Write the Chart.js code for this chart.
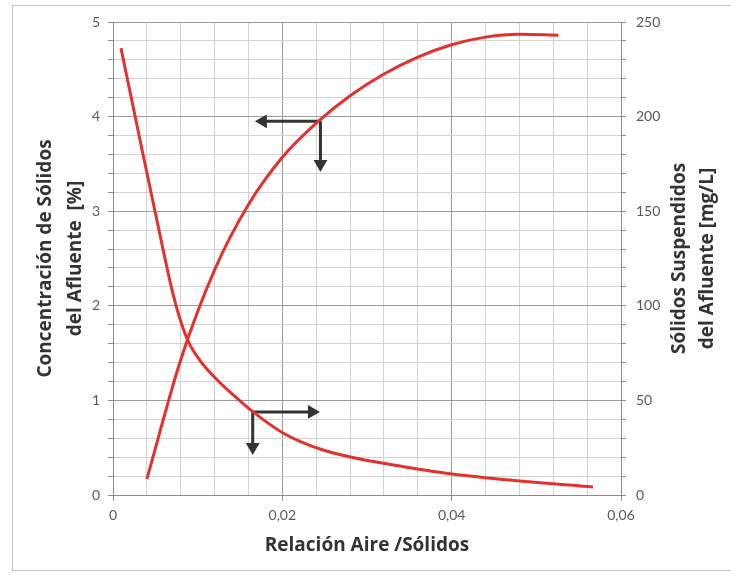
<!DOCTYPE html>
<html lang="es">
<head>
<meta charset="utf-8">
<title>Relación Aire / Sólidos</title>
<script src="https://cdn.jsdelivr.net/npm/chart.js@4"></script>
<style>
    html, body { margin: 0; padding: 0; background: #fff; }
    #marco {
        position: absolute; left: 12px; top: 5px; width: 730px; height: 566px;
        border: 1px solid #c4c4c4; box-sizing: border-box;
    }
    #contenedor { position: absolute; left: 0; top: 0; width: 731px; height: 575px; }
</style>
</head>
<body>
<div id="marco"></div>
<div id="contenedor"><canvas id="graficoAireSolidos"></canvas></div>
<script>
// Curva de concentración de sólidos del afluente (eje izquierdo, %)
const concX = [0.004, 0.008, 0.012, 0.016, 0.020, 0.024, 0.028, 0.032, 0.036, 0.040, 0.044, 0.048, 0.0526];
const concY = [0.17, 1.43, 2.38, 3.07, 3.57, 3.93, 4.22, 4.45, 4.63, 4.76, 4.84, 4.87, 4.86];

// Curva de sólidos suspendidos del afluente (eje derecho, mg/L)
const ssX = [0.00094, 0.00319, 0.00555, 0.00697, 0.00791, 0.00886, 0.01028, 0.01205, 0.01417, 0.01654, 0.02008, 0.02445, 0.02917, 0.03390, 0.04004, 0.04807, 0.05669];
const ssY = [236.2, 187.6, 137.4, 108.4, 93.0, 81.5, 71.0, 62.0, 53.0, 43.9, 32.8, 24.3, 19.0, 15.3, 11.1, 7.4, 4.2];

// Flechas de lectura: esquina y puntas
const flecha1Esquina = { x: 0.0245, y: 3.95 };
const flecha1Izq = { x: 0.0177, y: 3.95 };
const flecha1Abajo = { x: 0.0245, y: 3.50 };
const flecha2Esquina = { x: 0.0165, y: 43.9 };
const flecha2Der = { x: 0.0235, y: 43.9 };
const flecha2Abajo = { x: 0.0165, y: 25.4 };

// Marcas de los ejes
const ticksX = Array.from({ length: 16 }, (_, i) => i * 4 / 1000);
const ticksIzq = Array.from({ length: 26 }, (_, i) => i / 5);
const ticksDer = Array.from({ length: 26 }, (_, i) => i * 10);

const rojo = '#e5312e';
const gris = '#333333';
const fuenteTicks = { family: 'Lato', size: 14 };
const fuenteTitulo = { family: 'Open Sans', size: 19, weight: 'bold' };

function esMultiplo(v, paso) {
    const r = v / paso;
    return Math.abs(r - Math.round(r)) < 1e-6;
}

function puntos(xs, ys) {
    return xs.map((x, i) => ({ x: x, y: ys[i] }));
}

// Flecha = linea de dos puntos con un triangulo al final
function flecha(desde, hasta, giro, eje) {
    return {
        data: [desde, hasta],
        yAxisID: eje,
        borderColor: gris,
        backgroundColor: gris,
        borderWidth: 3,
        pointRadius: [0, 8],
        pointHoverRadius: [0, 8],
        pointStyle: 'triangle',
        pointRotation: [0, giro],
        pointBorderWidth: 0,
        tension: 0
    };
}

// Titulo del eje derecho leido de abajo hacia arriba
const tituloDerecho = {
    id: 'tituloDerecho',
    afterDraw(chart) {
        const ctx = chart.ctx;
        const area = chart.chartArea;
        const yc = (area.top + area.bottom) / 2;
        const lineas = ['Sólidos Suspendidos', 'del Afluente [mg/L]'];
        const xs = [680, 708];
        ctx.save();
        ctx.fillStyle = gris;
        ctx.font = 'bold 19px "Open Sans"';
        ctx.textAlign = 'center';
        ctx.textBaseline = 'middle';
        lineas.forEach((t, i) => {
            ctx.save();
            ctx.translate(xs[i], yc);
            ctx.rotate(-Math.PI / 2);
            ctx.fillText(t, 0, 0);
            ctx.restore();
        });
        ctx.restore();
    }
};

const ctx = document.getElementById('graficoAireSolidos').getContext('2d');

new Chart(ctx, {
    type: 'line',
    data: {
        datasets: [
            {
                data: puntos(concX, concY),
                yAxisID: 'y',
                borderColor: rojo,
                borderWidth: 3,
                pointRadius: 0,
                cubicInterpolationMode: 'monotone'
            },
            {
                data: puntos(ssX, ssY),
                yAxisID: 'y2',
                borderColor: rojo,
                borderWidth: 3,
                pointRadius: 0,
                cubicInterpolationMode: 'monotone'
            },
            flecha(flecha1Esquina, flecha1Izq, 270, 'y'),
            flecha(flecha1Esquina, flecha1Abajo, 180, 'y'),
            flecha(flecha2Esquina, flecha2Der, 90, 'y2'),
            flecha(flecha2Esquina, flecha2Abajo, 180, 'y2')
        ]
    },
    options: {
        responsive: true,
        maintainAspectRatio: false,
        animation: false,
        layout: { padding: { top: 22, right: 0, bottom: 0, left: 0 } },
        plugins: {
            legend: { display: false },
            tooltip: { enabled: false }
        },
        scales: {
            x: {
                type: 'linear',
                min: 0,
                max: 0.06,
                afterFit: scale => { scale.height = 80; },
                afterBuildTicks: scale => { scale.ticks = ticksX.map(v => ({ value: v })); },
                border: { color: '#8c8c8c', width: 1 },
                grid: {
                    color: c => esMultiplo(c.tick.value, 0.02) ? '#9a9a9a' : '#d2d2d2',
                    tickColor: c => esMultiplo(c.tick.value, 0.02) ? '#8c8c8c' : 'rgba(0,0,0,0)',
                    tickLength: 6
                },
                ticks: {
                    color: '#595959',
                    font: fuenteTicks,
                    padding: 6,
                    maxRotation: 0,
                    autoSkip: false,
                    callback: function(value) {
                        if (!esMultiplo(value, 0.02)) return '';
                        return value === 0 ? '0' : value.toFixed(2).replace('.', ',');
                    }
                },
                title: {
                    display: true,
                    text: 'Relación Aire /Sólidos',
                    color: gris,
                    font: fuenteTitulo,
                    padding: { top: 0, bottom: 18 }
                }
            },
            y: {
                position: 'left',
                min: 0,
                max: 5,
                afterFit: scale => { scale.width = 113; },
                afterBuildTicks: scale => { scale.ticks = ticksIzq.map(v => ({ value: v })); },
                border: { color: '#8c8c8c', width: 1 },
                grid: {
                    color: c => esMultiplo(c.tick.value, 1) ? '#9a9a9a' : '#d2d2d2',
                    tickColor: '#8c8c8c',
                    tickLength: 5
                },
                ticks: {
                    color: '#595959',
                    font: fuenteTicks,
                    padding: 8,
                    autoSkip: false,
                    callback: function(value) {
                        return esMultiplo(value, 1) ? String(Math.round(value)) : '';
                    }
                },
                title: {
                    display: true,
                    text: ['Concentración de Sólidos', 'del Afluente  [%]'],
                    color: gris,
                    font: { family: 'Open Sans', size: 19, weight: 'bold', lineHeight: 1.579 },
                    padding: { top: 31, bottom: 0 }
                }
            },
            y2: {
                position: 'right',
                min: 0,
                max: 250,
                afterFit: scale => { scale.width = 110; },
                afterBuildTicks: scale => { scale.ticks = ticksDer.map(v => ({ value: v })); },
                border: { color: '#8c8c8c', width: 1 },
                grid: {
                    drawOnChartArea: false,
                    tickColor: '#8c8c8c',
                    tickLength: 5
                },
                ticks: {
                    color: '#595959',
                    font: fuenteTicks,
                    padding: 10,
                    autoSkip: false,
                    callback: function(value) {
                        return esMultiplo(value, 50) ? String(value) : '';
                    }
                }
            }
        }
    },
    plugins: [tituloDerecho]
});
</script>
</body>
</html>
